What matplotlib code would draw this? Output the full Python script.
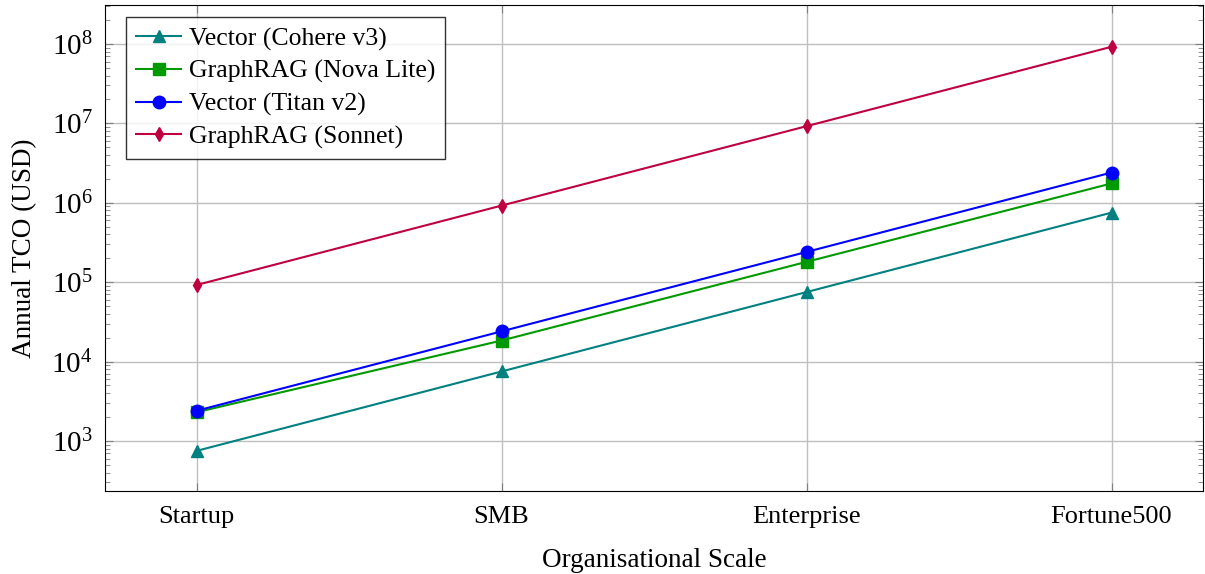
import matplotlib.pyplot as plt
import numpy as np
from matplotlib.ticker import LogLocator, NullFormatter

escalas = ["Startup", "SMB", "Enterprise", "Fortune500"]
cohere_v3 = [750, 7500, 75000, 750000]
nova_lite = [2300, 18400, 180000, 1750000]
titan_v2 = [2400, 24000, 240000, 2400000]
sonnet = [92000, 920000, 9200000, 92000000]

plt.rcParams['font.family'] = ['Liberation Serif', 'DejaVu Serif']
plt.rcParams['mathtext.fontset'] = 'stix'

fig = plt.figure(figsize=(12.05, 5.74), dpi=100)
ax = fig.add_axes([105 / 1205, 1 - 491 / 574, 1098 / 1205, 486 / 574])

x = np.arange(len(escalas))
ax.plot(x, cohere_v3, color=(0, 0.5, 0.5), marker='^', markersize=8, lw=1.5, label='Vector (Cohere v3)', zorder=3)
ax.plot(x, nova_lite, color=(0, 0.6, 0), marker='s', markersize=8, lw=1.5, label='GraphRAG (Nova Lite)', zorder=3)
ax.plot(x, titan_v2, color=(0, 0, 1), marker='o', markersize=9, lw=1.5, label='Vector (Titan v2)', zorder=3)
ax.plot(x, sonnet, color=(0.75, 0, 0.25), marker='d', markersize=7, lw=1.5, label='GraphRAG (Sonnet)', zorder=3)

ax.set_yscale('log')
ax.set_xlim(-0.3, 3.3)
ax.set_ylim(10 ** 2.37, 10 ** 8.49)
ax.set_xticks(x)
ax.set_xticklabels(escalas, fontsize=19)
ax.yaxis.set_major_locator(LogLocator(base=10, numticks=12))
ax.yaxis.set_minor_locator(LogLocator(base=10, subs=np.arange(2, 10), numticks=12))
ax.yaxis.set_minor_formatter(NullFormatter())
ax.tick_params(axis='y', which='major', labelsize=21, direction='in', length=6, right=True, color='gray', pad=9)
ax.tick_params(axis='y', which='minor', direction='in', length=3.5, right=True, color='gray')
ax.tick_params(axis='x', which='major', direction='in', length=6, top=True, color='gray', pad=11)
ax.grid(True, which='major', color='#bfbfbf', lw=1)

ax.set_xlabel('Organisational Scale', fontsize=19.5, labelpad=14)
ax.set_ylabel('Annual TCO (USD)', fontsize=19.5, labelpad=10)

leg = ax.legend(loc='upper left', bbox_to_anchor=(0.019, 0.975), borderaxespad=0, fontsize=18.5,
                frameon=True, fancybox=False, edgecolor='black',
                handlelength=1.75, handletextpad=0.3, labelspacing=0.36, borderpad=0.4)
leg.get_frame().set_linewidth(1)

fig.savefig('out.png', dpi=100)
